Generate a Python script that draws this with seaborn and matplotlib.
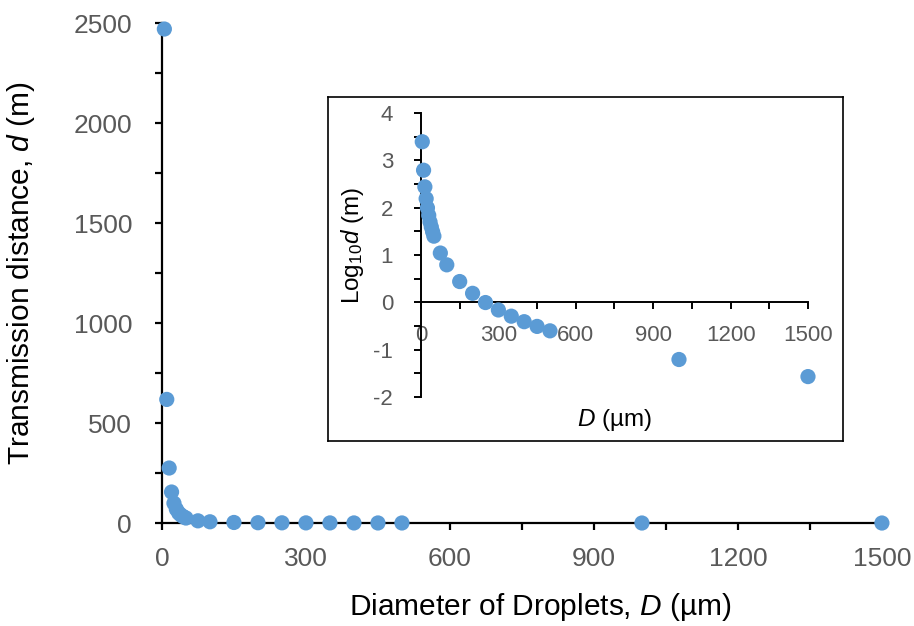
"""plot.py - droplet transmission distance vs diameter, with log10 inset"""

import numpy as np
import matplotlib
matplotlib.use('Agg')
import matplotlib.pyplot as plt
from matplotlib.ticker import MultipleLocator
import seaborn as sns

# droplet diameter D (um) and transmission distance d (m)
diameters = [5, 10, 15, 20, 25, 30, 35, 40, 45, 50, 75, 100,
             150, 200, 250, 300, 350, 400, 450, 500, 1000, 1500]
distances = [2470, 618, 275, 155, 99, 69, 50, 39, 31, 25, 11, 6.2,
             2.75, 1.55, 0.99, 0.69, 0.51, 0.39, 0.31, 0.25, 0.062, 0.027]
log_distances = np.log10(distances)

main_xticks = [0, 300, 600, 900, 1200, 1500]
main_yticks = [0, 500, 1000, 1500, 2000, 2500]
inset_xticks = [0, 300, 600, 900, 1200, 1500]
inset_yticks = [-2, -1, 0, 1, 2, 3, 4]

BLUE = '#5B9BD5'
GREY = '#595959'
MAIN_TICK_FS = 19
MAIN_LABEL_FS = 21.5
INSET_TICK_FS = 16
INSET_LABEL_FS = 17.5

sns.set_style('ticks')
plt.rcParams['font.family'] = ['Liberation Sans', 'DejaVu Sans']
plt.rcParams['mathtext.fontset'] = 'custom'
plt.rcParams['mathtext.rm'] = 'Liberation Sans'
plt.rcParams['mathtext.it'] = 'Liberation Sans:italic'
plt.rcParams['axes.unicode_minus'] = False

fig = plt.figure(figsize=(9.14, 6.26), dpi=100)

# ---- main axes ----
ax = fig.add_axes([0.1772, 0.1645, 0.7877, 0.7987])
sns.scatterplot(x=diameters, y=distances, ax=ax, color=BLUE, s=120,
                edgecolor='none', zorder=3, clip_on=False)
ax.set_xlim(0, 1500)
ax.set_ylim(0, 2500)
ax.set_xticks(main_xticks)
ax.set_yticks(main_yticks)
ax.xaxis.set_minor_locator(MultipleLocator(150))
ax.yaxis.set_minor_locator(MultipleLocator(250))
sns.despine(ax=ax)
for side in ('left', 'bottom'):
    ax.spines[side].set_linewidth(1.6)
    ax.spines[side].set_color('black')
ax.tick_params(which='both', direction='out', length=5, width=1.6, color='black')
ax.tick_params(axis='y', labelsize=MAIN_TICK_FS, labelcolor=GREY, pad=16.5)
ax.tick_params(axis='x', labelsize=MAIN_TICK_FS, labelcolor=GREY, pad=12)
ax.set_xlabel(r'Diameter of Droplets, $\it{D}$ (µm)', fontsize=MAIN_LABEL_FS, color='black')
ax.set_ylabel(r'Transmission distance, $\it{d}$ (m)', fontsize=MAIN_LABEL_FS, color='black')
ax.xaxis.set_label_coords(0.526, -0.135)
ax.yaxis.set_label_coords(-0.174, 0.5)

# ---- inset frame ----
box = fig.add_axes([0.3589, 0.2955, 0.5635, 0.5495])
box.set_xticks([])
box.set_yticks([])
for sp in box.spines.values():
    sp.set_visible(True)
    sp.set_color('black')
    sp.set_linewidth(1.2)

# ---- inset axes (log10 d) ----
ins = fig.add_axes([0.4606, 0.3658, 0.4234, 0.4537])
ins.patch.set_alpha(0)
sns.scatterplot(x=diameters, y=log_distances, ax=ins, color=BLUE, s=120,
                edgecolor='none', zorder=3, clip_on=False)
ins.set_xlim(0, 1500)
ins.set_ylim(-2, 4)
ins.set_xticks(inset_xticks)
ins.set_yticks(inset_yticks)
ins.xaxis.set_minor_locator(MultipleLocator(150))
ins.yaxis.set_minor_locator(MultipleLocator(0.5))
ins.spines['top'].set_visible(False)
ins.spines['right'].set_visible(False)
ins.spines['bottom'].set_position(('data', 0))
for side in ('left', 'bottom'):
    ins.spines[side].set_linewidth(1.4)
    ins.spines[side].set_color('black')
ins.tick_params(which='both', direction='out', length=5, width=1.4, color='black')
ins.tick_params(axis='y', labelsize=INSET_TICK_FS, labelcolor=GREY, pad=15)
ins.tick_params(axis='x', labelsize=INSET_TICK_FS, labelcolor=GREY, pad=11)
ins.set_xlabel(r'$\it{D}$ (µm)', fontsize=INSET_LABEL_FS, color='black')
ins.set_ylabel(r'Log$_{10}$$\it{d}$ (m)', fontsize=INSET_LABEL_FS, color='black')
ins.xaxis.set_label_coords(0.5, -0.035)
ins.yaxis.set_label_coords(-0.142, 0.535)

fig.savefig('out.png', dpi=100)
plt.close(fig)
